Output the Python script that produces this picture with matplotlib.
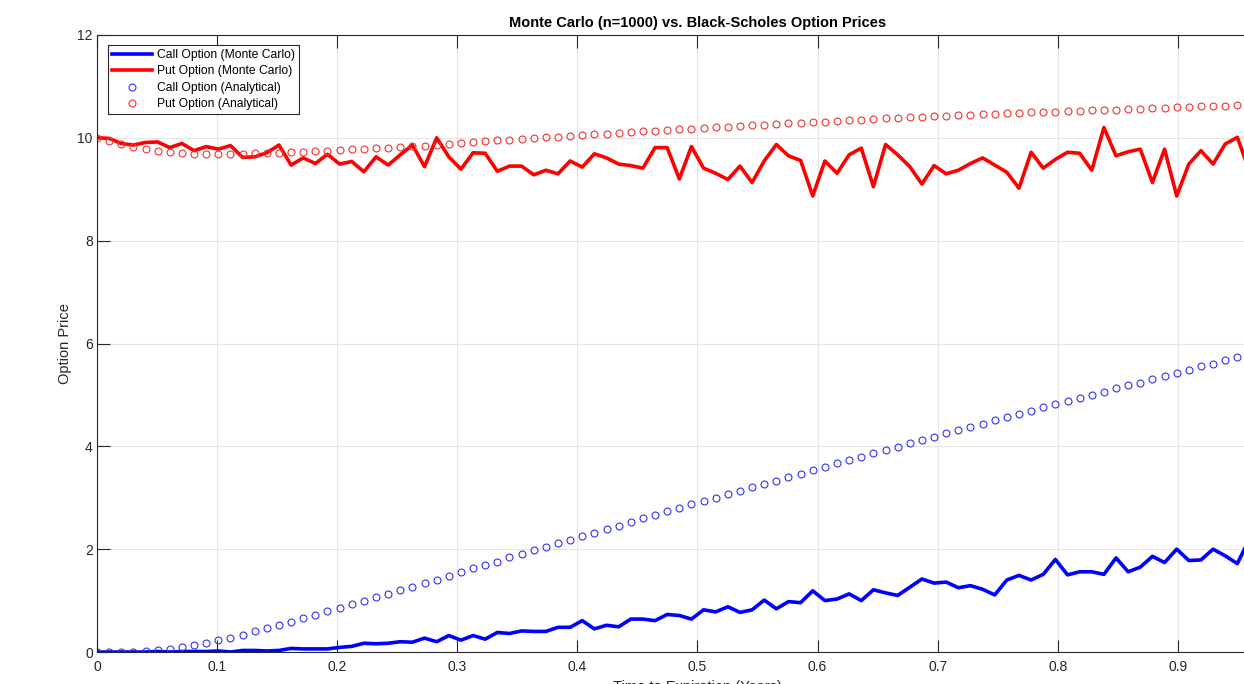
import numpy as np
import matplotlib.pyplot as plt

plt.rcParams["font.family"] = ["Liberation Sans", "DejaVu Sans"]

# expiries (years), 100 steps from 0 to 1, the last few fall past the right edge
t = np.linspace(0, 1, 100)[:96]

call_mc = [0.00, 0.00, 0.00, 0.00, 0.00, 0.01, 0.00, 0.01, 0.01, 0.01,
           0.02, 0.00, 0.03, 0.03, 0.02, 0.03, 0.07, 0.06, 0.06, 0.06,
           0.09, 0.11, 0.17, 0.16, 0.17, 0.20, 0.19, 0.27, 0.20, 0.32,
           0.23, 0.32, 0.25, 0.38, 0.36, 0.41, 0.40, 0.40, 0.48, 0.48,
           0.61, 0.45, 0.52, 0.49, 0.64, 0.64, 0.61, 0.73, 0.71, 0.64,
           0.82, 0.78, 0.88, 0.77, 0.82, 1.01, 0.84, 0.98, 0.96, 1.19,
           1.00, 1.03, 1.13, 1.00, 1.21, 1.15, 1.10, 1.26, 1.42, 1.34,
           1.36, 1.25, 1.29, 1.22, 1.11, 1.40, 1.49, 1.40, 1.51, 1.80,
           1.50, 1.56, 1.56, 1.51, 1.83, 1.56, 1.65, 1.86, 1.74, 2.00,
           1.78, 1.79, 2.00, 1.87, 1.72, 2.20]

put_mc = [10.00, 9.99, 9.89, 9.86, 9.91, 9.92, 9.81, 9.89, 9.75, 9.83,
          9.78, 9.85, 9.62, 9.63, 9.71, 9.86, 9.47, 9.61, 9.50, 9.68,
          9.49, 9.54, 9.34, 9.63, 9.47, 9.67, 9.86, 9.44, 10.00, 9.63,
          9.39, 9.71, 9.70, 9.35, 9.45, 9.45, 9.28, 9.37, 9.30, 9.55,
          9.43, 9.69, 9.61, 9.49, 9.46, 9.41, 9.81, 9.81, 9.20, 9.83,
          9.41, 9.31, 9.19, 9.45, 9.13, 9.55, 9.87, 9.65, 9.56, 8.87,
          9.55, 9.31, 9.67, 9.80, 9.05, 9.87, 9.67, 9.44, 9.10, 9.46,
          9.30, 9.37, 9.50, 9.61, 9.47, 9.33, 9.02, 9.72, 9.41, 9.58,
          9.72, 9.70, 9.37, 10.20, 9.65, 9.73, 9.78, 9.13, 9.78, 8.87,
          9.49, 9.75, 9.49, 9.88, 10.01, 9.35]

call_bs = [0.00, 0.00, 0.00, 0.00, 0.01, 0.03, 0.06, 0.09, 0.13, 0.18,
           0.23, 0.28, 0.34, 0.40, 0.46, 0.53, 0.59, 0.66, 0.72, 0.79,
           0.86, 0.93, 0.99, 1.06, 1.13, 1.20, 1.27, 1.34, 1.41, 1.48,
           1.56, 1.63, 1.70, 1.76, 1.84, 1.91, 1.98, 2.05, 2.12, 2.18,
           2.26, 2.32, 2.39, 2.46, 2.53, 2.60, 2.66, 2.74, 2.80, 2.87,
           2.94, 3.00, 3.07, 3.13, 3.20, 3.27, 3.33, 3.40, 3.47, 3.53,
           3.60, 3.67, 3.73, 3.80, 3.87, 3.92, 3.99, 4.06, 4.12, 4.19,
           4.25, 4.32, 4.38, 4.44, 4.51, 4.57, 4.63, 4.69, 4.76, 4.82,
           4.88, 4.94, 5.00, 5.06, 5.13, 5.19, 5.24, 5.31, 5.37, 5.43,
           5.49, 5.56, 5.61, 5.68, 5.74, 5.80]

put_bs = [10.00, 9.94, 9.88, 9.83, 9.79, 9.75, 9.72, 9.70, 9.69, 9.68,
          9.68, 9.68, 9.69, 9.70, 9.70, 9.71, 9.72, 9.73, 9.74, 9.75,
          9.76, 9.78, 9.79, 9.80, 9.81, 9.83, 9.84, 9.85, 9.87, 9.88,
          9.89, 9.91, 9.93, 9.95, 9.96, 9.98, 9.99, 10.01, 10.02, 10.04,
          10.05, 10.07, 10.08, 10.10, 10.11, 10.13, 10.14, 10.15, 10.17, 10.18,
          10.19, 10.21, 10.22, 10.23, 10.24, 10.25, 10.27, 10.28, 10.29, 10.30,
          10.31, 10.32, 10.34, 10.35, 10.37, 10.38, 10.39, 10.40, 10.41, 10.42,
          10.43, 10.44, 10.45, 10.46, 10.47, 10.48, 10.49, 10.50, 10.51, 10.51,
          10.52, 10.53, 10.54, 10.55, 10.55, 10.56, 10.57, 10.58, 10.58, 10.59,
          10.60, 10.61, 10.61, 10.62, 10.63, 10.64]

x_ticks = [0, 0.1, 0.2, 0.3, 0.4, 0.5, 0.6, 0.7, 0.8, 0.9]
x_labels = ["0", "0.1", "0.2", "0.3", "0.4", "0.5", "0.6", "0.7", "0.8", "0.9"]
y_ticks = [0, 2, 4, 6, 8, 10, 12]

fig = plt.figure(figsize=(12.44, 6.84), dpi=100)
# axes run a little past the right edge of the figure
ax = fig.add_axes([97 / 1244, 32 / 684, 1201 / 1244, 617 / 684])

ax.plot(t, call_mc, color="#0000ff", lw=2.6, label="Call Option (Monte Carlo)")
ax.plot(t, put_mc, color="#ff0000", lw=2.6, label="Put Option (Monte Carlo)")
ax.plot(t, call_bs, "o", color="#3333ee", mfc="none", ms=5, mew=0.8,
        label="Call Option (Analytical)")
ax.plot(t, put_bs, "o", color="#ee3333", mfc="none", ms=5, mew=0.8,
        label="Put Option (Analytical)")

ax.set_xlim(0, 1)
ax.set_ylim(0, 12)
ax.set_xticks(x_ticks)
ax.set_xticklabels(x_labels)
ax.set_yticks(y_ticks)
ax.grid(True, color="#e6e6e6", lw=0.8)
ax.set_axisbelow(True)
for s in ax.spines.values():
    s.set_color("#262626")
    s.set_linewidth(0.8)
ax.tick_params(direction="in", length=9, width=0.8, color="#262626",
               labelcolor="#262626", labelsize=10, top=True, right=True)
ax.tick_params(axis="x", pad=6)
ax.tick_params(axis="y", pad=3)

ax.set_title("Monte Carlo (n=1000) vs. Black-Scholes Option Prices",
             fontsize=10.5, fontweight="bold", pad=6)
ax.set_xlabel("Time to Expiration (Years)", fontsize=10.5, color="#262626", labelpad=4)
ax.set_ylabel("Option Price", fontsize=10.5, color="#262626", labelpad=4)

leg = ax.legend(loc="upper left", bbox_to_anchor=(0.009, 0.984), borderaxespad=0,
                fontsize=8.7, fancybox=False, edgecolor="#262626", framealpha=1,
                handlelength=3.3, handletextpad=0.4, labelspacing=0.36,
                borderpad=0.35)
leg.get_frame().set_linewidth(0.8)

fig.savefig("out.png", dpi=100)
